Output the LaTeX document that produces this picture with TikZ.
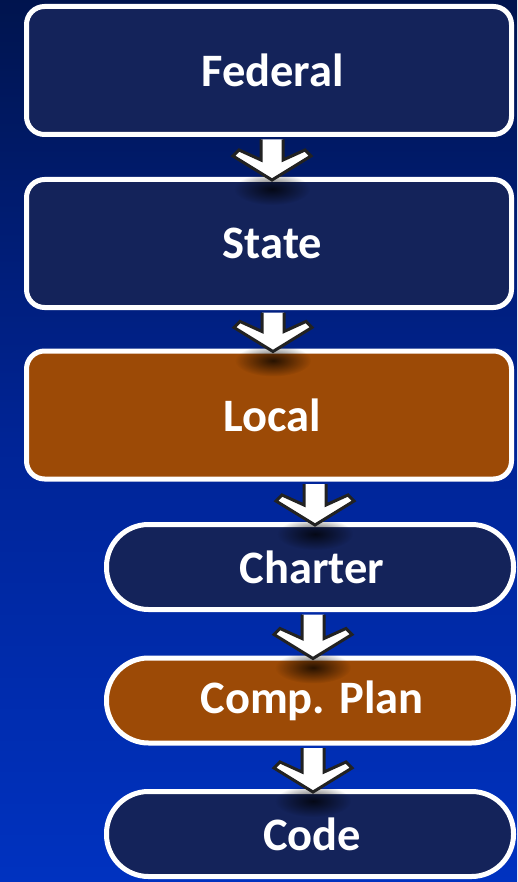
\documentclass[tikz,border=0pt]{standalone}
\usepackage{fontspec}
\setmainfont{Carlito}
\usetikzlibrary{calc,fadings}
\definecolor{bgtop}{RGB}{0,20,78}
\definecolor{bgmid}{RGB}{0,36,150}
\definecolor{bgbot}{RGB}{0,50,192}
\definecolor{navybox}{RGB}{20,35,90}
\definecolor{orangebox}{RGB}{156,74,6}
\definecolor{arrowline}{RGB}{34,34,34}
\tikzfading[name=softfade, inner color=transparent!0, outer color=transparent!100]
\tikzset{
  wide/.style={draw=white, line width=5pt, rounded corners=18pt, minimum width=485pt, minimum height=128pt,
    text=white, font=\bfseries\fontsize{46.5}{52}\selectfont, inner sep=0pt,
    execute at begin node=\hspace*{7pt}},
  pill/.style={draw=white, line width=5pt, rounded corners=42pt, minimum width=407pt, minimum height=85pt,
    text=white, font=\bfseries\fontsize{46.5}{52}\selectfont, inner sep=0pt,
    execute at begin node=\hspace*{4pt}},
  navy/.style={fill=navybox},
  orng/.style={fill=orangebox},
  arrowbody/.style={fill=white, draw=arrowline, line width=3pt, line join=miter},
}
\newcommand{\bigarrow}[3]{%
  \fill[black, opacity=0.75, path fading=softfade]
    let \p1=(#1.south), \p2=(#2.north) in (\x1+#3,\y2-12pt) ellipse [x radius=38pt, y radius=16pt];
  \path[arrowbody] let \p1=(#1.south), \p2=(#2.north) in
    (\x1+#3-11pt,\y1-2.5pt) -- (\x1+#3-11pt,\y2-3pt+20pt) -- (\x1+#3-33pt,\y2-3pt+30pt)
    -- (\x1+#3-39pt,\y2-3pt+24pt) -- (\x1+#3,\y2-3pt) -- (\x1+#3+39pt,\y2-3pt+24pt)
    -- (\x1+#3+33pt,\y2-3pt+30pt) -- (\x1+#3+11pt,\y2-3pt+20pt) -- (\x1+#3+11pt,\y1-2.5pt);
}
\begin{document}
\begin{tikzpicture}[x=1pt,y=-1pt]
\useasboundingbox (0,0) rectangle (517,882);
\shade[top color=bgtop, bottom color=bgbot, middle color=bgmid] (0,0) rectangle (517,882);
\node[wide, navy] (federal) at (269,70.5) {Federal};
\node[wide, navy] (state) at (269,243.5) {State};
\node[wide, orng] (local) at (269,415) {Local};
\node[pill, navy] (charter) at (310,567) {Charter};
\node[pill, orng] (comp) at (310,700.5) {Comp. Plan};
\node[pill, navy] (code) at (310,834) {Code};
\bigarrow{federal}{state}{3pt}
\bigarrow{state}{local}{4pt}
\bigarrow{local}{charter}{46pt}
\bigarrow{charter}{comp}{3pt}
\bigarrow{comp}{code}{3pt}
\end{tikzpicture}
\end{document}
